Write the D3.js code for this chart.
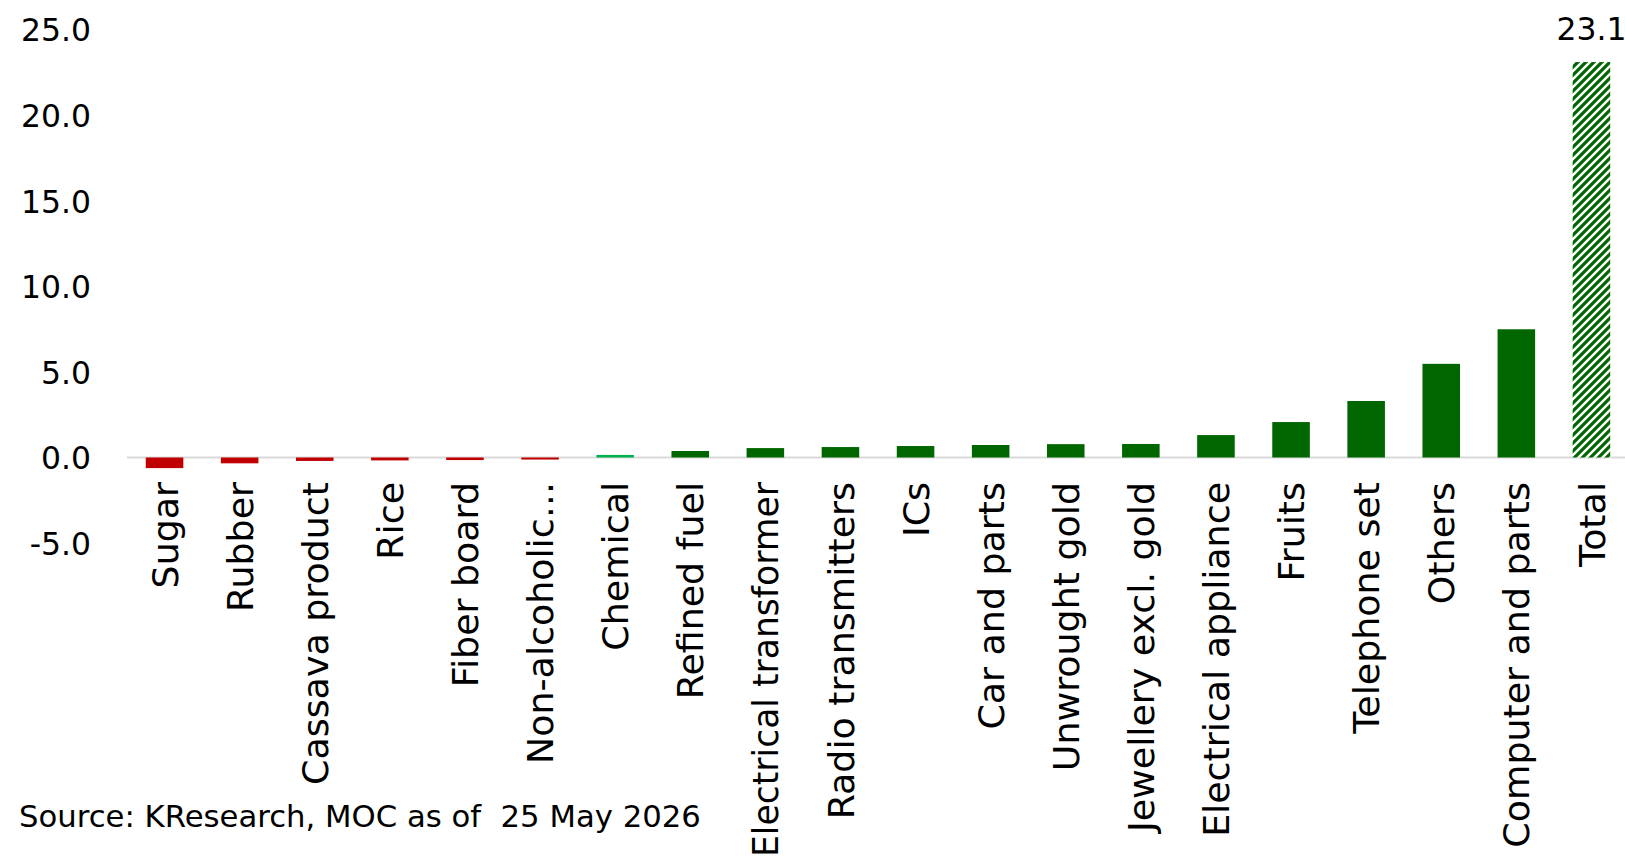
<!DOCTYPE html>
<html>
<head>
<meta charset="utf-8">
<script src="https://cdn.jsdelivr.net/npm/d3@7"></script>
<style>
  html, body { margin: 0; padding: 0; background: #ffffff; overflow: hidden; }
  svg { display: block; }
  text { font-family: "DejaVu Sans", sans-serif; fill: #000000; white-space: pre; }
</style>
</head>
<body>
<svg id="chart" width="1625" height="859"></svg>
<script>
// ---- data ----
const categories = ["Sugar", "Rubber", "Cassava product", "Rice", "Fiber board", "Non-alcoholic…",
  "Chemical", "Refined fuel", "Electrical transformer", "Radio transmitters", "ICs", "Car and parts",
  "Unwrought gold", "Jewellery excl. gold", "Electrical appliance", "Fruits", "Telephone set",
  "Others", "Computer and parts", "Total"];
const values = [-0.62, -0.34, -0.20, -0.17, -0.15, -0.12,
  0.15, 0.38, 0.55, 0.61, 0.67, 0.73,
  0.78, 0.79, 1.31, 2.07, 3.30,
  5.47, 7.49, 23.1];
const yTicks = [-5, 0, 5, 10, 15, 20, 25];
const labelledCategories = ["Total"];
const sourceNote = "Source: KResearch, MOC as of  25 May 2026";

// ---- setup ----
const svg = d3.select("#chart");

const x = d3.scaleBand().domain(categories).range([127, 1629]).paddingInner(0.5).paddingOuter(0.25);
const y = d3.scaleLinear().domain([-5, 25]).range([543.1, 29.5]);

// font fitting helper (match reference text widths with installed font)
function fitSize(str, targetWidth) {
  const t = svg.append("text").style("font-size", "100px").text(str);
  const w = t.node().getComputedTextLength();
  t.remove();
  return 100 * targetWidth / w;
}
const xFont = fitSize("Computer and partsElectrical applianceJewellery excl. goldRadio transmittersCassava product", 367 + 362 + 354 + 318 + 310);
const yFont = fitSize("25.0", 70);
const srcFont = fitSize(sourceNote, 682);

// pattern for Total bar
const defs = svg.append("defs");
const pat = defs.append("pattern").attr("id", "hatch").attr("patternUnits", "userSpaceOnUse")
  .attr("width", 8).attr("height", 8);
pat.append("rect").attr("width", 8).attr("height", 8).attr("fill", "#ffffff");
pat.append("path").attr("d", "M-2,2 L2,-2 M0,8 L8,0 M6,10 L10,6")
  .attr("stroke", "#006600").attr("stroke-width", 3.2);

// zero line
const xr = x.range();
svg.append("line")
  .attr("x1", xr[0]).attr("x2", xr[1])
  .attr("y1", y(0)).attr("y2", y(0))
  .attr("stroke", "#D9D9D9").attr("stroke-width", 2);

// bars
function barFill(d) {
  if (d.c === "Total") return "url(#hatch)";
  if (d.v < 0) return "#C00000";
  if (d.c === "Chemical") return "#00B050";
  return "#006600";
}
const data = categories.map((c, i) => ({ c, v: values[i] }));
svg.append("g").selectAll("rect").data(data).join("rect")
  .attr("x", d => x(d.c))
  .attr("width", x.bandwidth())
  .attr("y", d => Math.min(y(d.v), y(0)))
  .attr("height", d => Math.abs(y(d.v) - y(0)))
  .attr("fill", barFill);

// y axis
const yAxis = svg.append("g").attr("transform", "translate(91,0)")
  .call(d3.axisLeft(y).tickValues(yTicks).tickSize(0).tickPadding(0).tickFormat(v => v.toFixed(1)));
yAxis.select(".domain").remove();
yAxis.selectAll("text")
  .style("font-family", "DejaVu Sans, sans-serif")
  .style("font-size", yFont + "px")
  .attr("fill", "#000").attr("dy", "0.36em");

// x axis labels
const labelOffset = 24.5;
const maxLabel = 859 - (y(0) + labelOffset) - 2;
const xAxis = svg.append("g").attr("transform", `translate(0,${y(0)})`)
  .call(d3.axisBottom(x).tickSize(0).tickPadding(0));
xAxis.select(".domain").remove();
xAxis.selectAll("text")
  .style("font-family", "DejaVu Sans, sans-serif")
  .style("font-size", xFont + "px")
  .attr("fill", "#000")
  .attr("text-anchor", "end")
  .attr("transform", "rotate(-90)")
  .attr("x", -labelOffset).attr("y", 0).attr("dy", "0.36em")
  .each(function () {
    if (this.getComputedTextLength() > maxLabel) {
      d3.select(this).attr("textLength", maxLabel).attr("lengthAdjust", "spacingAndGlyphs");
    }
  });

// data label
svg.append("g").selectAll("text").data(data.filter(d => labelledCategories.includes(d.c))).join("text")
  .attr("x", d => x(d.c) + x.bandwidth() / 2)
  .attr("y", d => y(d.v) - 22)
  .attr("text-anchor", "middle")
  .style("font-size", yFont + "px")
  .text(d => d.v.toFixed(1));

// source note
svg.append("text").attr("x", 19).attr("y", 827)
  .style("font-size", srcFont + "px")
  .text(sourceNote);
</script>
</body>
</html>
